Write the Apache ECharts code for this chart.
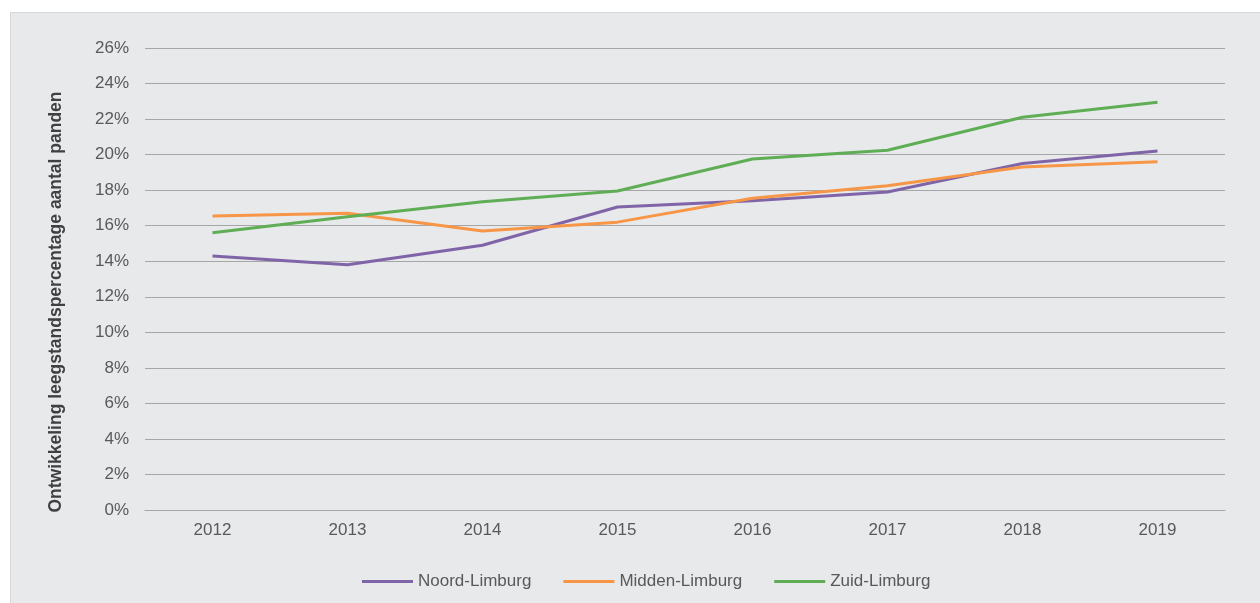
<!DOCTYPE html>
<html lang="nl">
<head>
  <meta charset="utf-8">
  <style>
    body { margin: 0; background: #ffffff; }
    .panel {
      position: absolute; left: 10px; top: 12px; width: 1260px; height: 600px;
      background: #e8e9eb; border: 1px solid #d6d7d9; box-sizing: border-box;
    }
    #chart { position: absolute; left: 0; top: 0; width: 1260px; height: 603px; }
  </style>
</head>
<body>
  <div class="panel"></div>
  <div id="chart"></div>
  <script src="https://cdn.jsdelivr.net/npm/echarts@6/dist/echarts.min.js"></script>
  <script>
    // jaren
    const years = ['2012', '2013', '2014', '2015', '2016', '2017', '2018', '2019'];
    // leegstandspercentage per regio
    const noord = [14.3, 13.8, 14.9, 17.05, 17.4, 17.9, 19.5, 20.2];
    const midden = [16.55, 16.7, 15.7, 16.2, 17.55, 18.25, 19.3, 19.6];
    const zuid = [15.6, 16.5, 17.35, 17.95, 19.75, 20.25, 22.1, 22.95];

    const font = 'Liberation Sans, Arial, sans-serif';
    const myChart = echarts.init(document.getElementById('chart'), null, { renderer: 'canvas' });

    function serie(name, data, color) {
      return {
        name: name,
        type: 'line',
        data: data,
        symbol: 'none',
        lineStyle: { color: color, width: 3 },
        itemStyle: { color: color }
      };
    }

    const option = {
      backgroundColor: 'transparent',
      textStyle: { fontFamily: font },
      grid: { left: 145, right: 35, top: 48, bottom: 93 },
      legend: {
        left: 357,
        top: 568,
        icon: 'rect',
        itemWidth: 51,
        itemHeight: 3,
        itemGap: 32,
        textStyle: { fontSize: 17, color: '#595959', fontFamily: font },
        data: ['Noord-Limburg', 'Midden-Limburg', 'Zuid-Limburg']
      },
      xAxis: {
        type: 'category',
        data: years,
        boundaryGap: true,
        axisLine: { lineStyle: { color: '#a6a6a6', width: 1 } },
        axisTick: { show: false },
        axisLabel: { fontSize: 17, color: '#595959', margin: 12 }
      },
      yAxis: {
        type: 'value',
        min: 0,
        max: 26,
        interval: 2,
        name: 'Ontwikkeling leegstandspercentage aantal panden',
        nameLocation: 'middle',
        nameGap: 80,
        nameTextStyle: {
          fontSize: 17.5, fontWeight: 'bold', color: '#404040', fontFamily: font,
          padding: [0, 46, 0, 0]
        },
        axisLine: { show: false },
        axisTick: { show: false },
        axisLabel: { fontSize: 17, color: '#595959', margin: 16, formatter: '{value}%' },
        splitLine: { lineStyle: { color: '#a6a6a6', width: 1 } }
      },
      series: [
        serie('Noord-Limburg', noord, '#8064a8'),
        serie('Midden-Limburg', midden, '#f79646'),
        serie('Zuid-Limburg', zuid, '#5fae55')
      ]
    };
    myChart.setOption(option);
    window.addEventListener('resize', myChart.resize);
  </script>
</body>
</html>
